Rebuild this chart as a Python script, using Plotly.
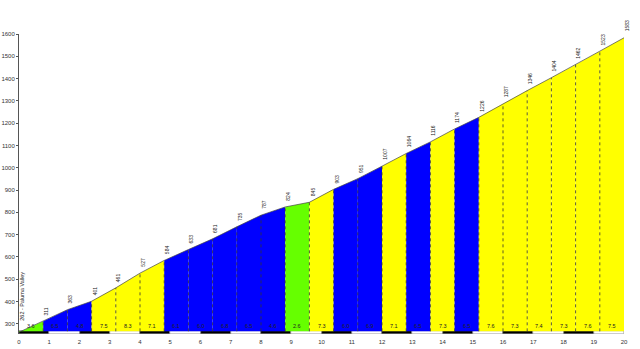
import plotly.graph_objects as go

# ---- data ----
km_points = [0.0, 0.8, 1.6, 2.4, 3.2, 4.0, 4.8, 5.6, 6.4, 7.2, 8.0, 8.8, 9.6,
             10.4, 11.2, 12.0, 12.8, 13.6, 14.4, 15.2, 16.0, 16.8, 17.6, 18.4,
             19.2, 20.0]
elevations = [262, 311, 363, 401, 461, 527, 584, 633, 681, 735, 787, 824, 845,
              903, 951, 1007, 1064, 1116, 1174, 1226, 1287, 1346, 1404, 1462,
              1523, 1583]
gradients = [3.6, 6.5, 4.8, 7.5, 8.3, 7.1, 6.1, 6.0, 6.8, 6.5, 4.6, 2.6, 7.3,
             6.0, 6.9, 7.1, 6.5, 7.3, 6.5, 7.6, 7.3, 7.4, 7.3, 7.6, 7.5]
seg_class = ["g", "b", "b", "y", "y", "y", "b", "b", "b", "b", "b", "g", "y",
             "b", "b", "y", "b", "y", "b", "y", "y", "y", "y", "y", "y"]
start_name = "Paluma Valley"
y_ticks = list(range(300, 1700, 100))
x_ticks = list(range(0, 21))

COLORS = {"g": "#66FF00", "b": "#0000FF", "y": "#FFFF00"}
BASE = 266
BAR_BOTTOM = 254
FONT = "Liberation Sans, Arial, sans-serif"

fig = go.Figure()

# scale bar (alternating black / white km blocks)
fig.add_trace(go.Bar(
    x=[k + 0.5 for k in x_ticks[:-1]],
    y=[BASE - BAR_BOTTOM] * (len(x_ticks) - 1),
    base=BAR_BOTTOM, width=1,
    marker=dict(color=["#000000" if k % 2 == 0 else "#FFFFFF" for k in x_ticks[:-1]],
                line=dict(color="#777777", width=0.5)),
    hoverinfo="skip", showlegend=False))

# coloured segments
for i, c in enumerate(seg_class):
    x0, x1 = km_points[i], km_points[i + 1]
    e0, e1 = elevations[i], elevations[i + 1]
    fig.add_trace(go.Scatter(
        x=[x0, x0, x1, x1, x0], y=[BASE, e0, e1, BASE, BASE],
        fill="toself", fillcolor=COLORS[c], mode="lines",
        line=dict(width=0, color=COLORS[c]), hoverinfo="skip", showlegend=False))

# dotted separators
sx, sy = [], []
for k, e in zip(km_points[1:-1], elevations[1:-1]):
    sx += [k, k, None]
    sy += [BASE, e, None]
fig.add_trace(go.Scatter(x=sx, y=sy, mode="lines",
                         line=dict(color="#333333", width=0.8, dash="dot"),
                         hoverinfo="skip", showlegend=False))

# profile line
fig.add_trace(go.Scatter(x=km_points, y=elevations, mode="lines",
                         line=dict(color="#444444", width=0.7),
                         hoverinfo="skip", showlegend=False))

annotations = []
# elevation labels
for i, (k, e) in enumerate(zip(km_points, elevations)):
    txt = f"{e} - {start_name}" if i == 0 else str(e)
    annotations.append(dict(
        x=k, y=e, text=txt, showarrow=False, textangle=-90,
        xanchor="center", yanchor="bottom",
        xshift=3, yshift=9 if i == 0 else 4,
        font=dict(family=FONT, size=5.5 if i == 0 else 5, color="#222222")))
# gradient labels
for i, g in enumerate(gradients):
    annotations.append(dict(
        x=(km_points[i] + km_points[i + 1]) / 2, y=BASE, text=f"{g:.1f}",
        showarrow=False, xanchor="center", yanchor="bottom", yshift=0,
        font=dict(family=FONT, size=5.5, color="#222222")))

fig.update_layout(
    width=640, height=349,
    margin=dict(l=19, r=16, t=34, b=15),
    paper_bgcolor="white", plot_bgcolor="white",
    showlegend=False, bargap=0,
    annotations=annotations,
    font=dict(family=FONT, size=6, color="#333333"),
)
fig.update_xaxes(range=[0, 20], tickvals=x_ticks, showgrid=False, zeroline=False,
                 showline=False, ticks="", automargin=False, ticklabelstandoff=3,
                 tickfont=dict(size=6, color="#333333"))
fig.update_yaxes(range=[BAR_BOTTOM, 1600], tickvals=y_ticks, showgrid=False,
                 zeroline=False, showline=True, linecolor="#555555", linewidth=1,
                 ticks="outside", ticklen=2, tickcolor="#555555", automargin=False,
                 tickfont=dict(size=6, color="#333333"))

fig.write_html("out.html")
